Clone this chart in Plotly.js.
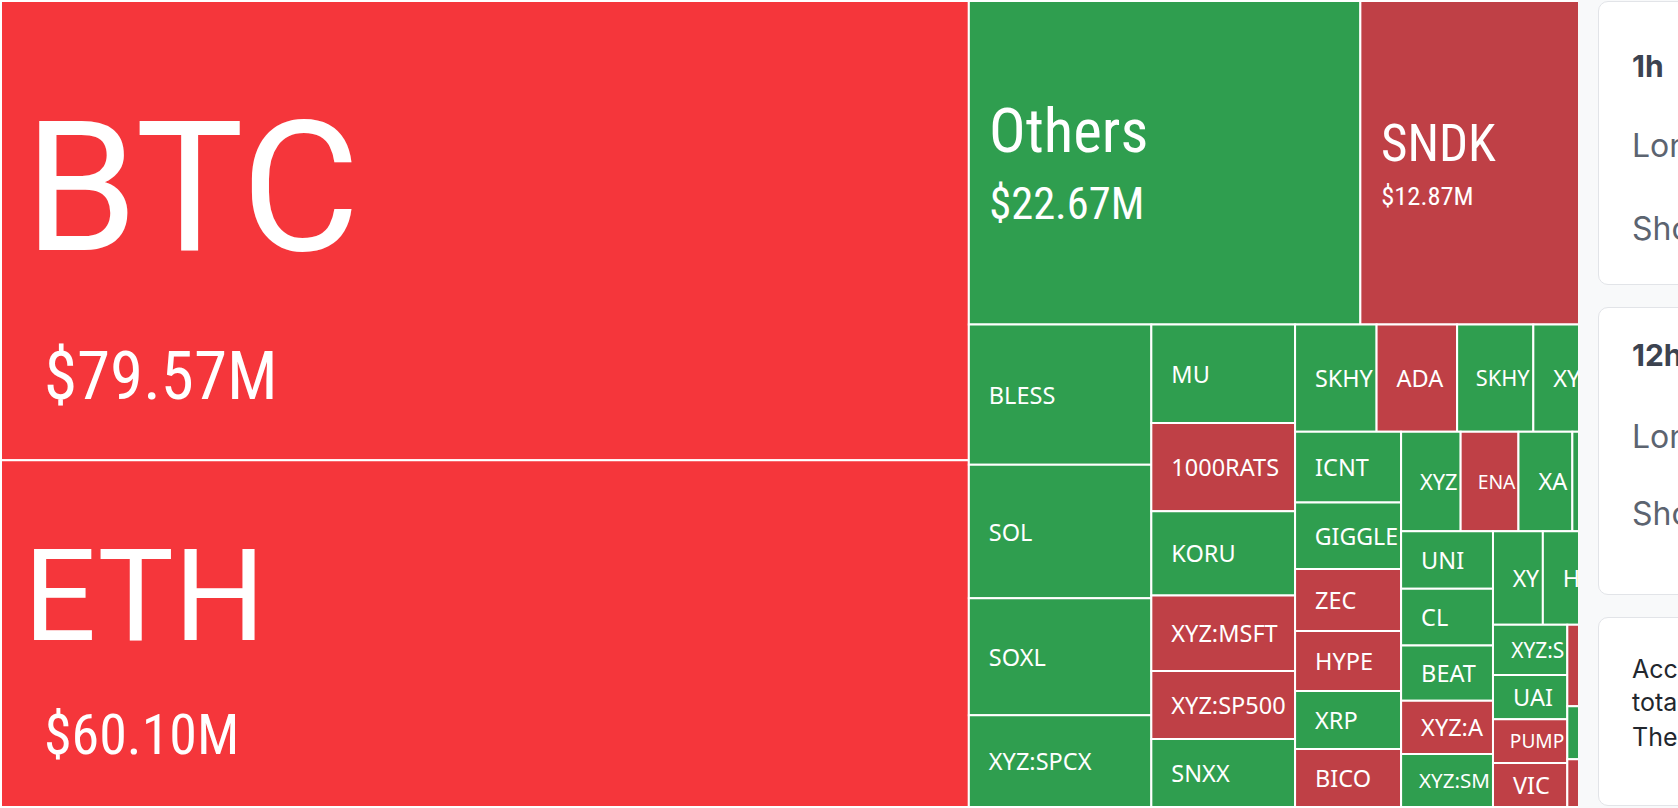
<!DOCTYPE html>
<html><head><meta charset="utf-8">
<script src="https://cdn.plot.ly/plotly-3.0.1.min.js"></script>
<style>
html,body{margin:0;padding:0;width:1678px;height:808px;overflow:hidden;background:#fff;}
#wrap{position:absolute;left:0;top:0;width:1578px;height:808px;overflow:hidden;background:#fff;}
#chart{position:absolute;left:0;top:0;width:1680px;height:808px;}
#side{position:absolute;left:1578px;top:0;width:100px;height:808px;background:#f8f9fa;overflow:hidden;}
.card{position:absolute;left:20px;width:220px;background:#fff;border:1px solid #e2e4e8;border-radius:10px;box-sizing:border-box;}
.tx{position:absolute;left:54px;white-space:nowrap;font-family:Inter,'Noto Sans',sans-serif;line-height:1;}
.h{font-weight:700;font-size:30px;color:#3c4350;}
.r{font-size:32px;color:#5c6470;}
.p{font-size:25px;color:#22272e;}
</style></head>
<body>
<div id="wrap"><div id="chart"></div></div>
<div id="side">
  <div class="card" style="top:1px;height:284px"></div>
  <div class="card" style="top:307px;height:288px"></div>
  <div class="card" style="top:617px;height:189px"></div>
  <div class="tx h" style="top:51px">1h</div>
  <div class="tx r" style="top:130px">Long</div>
  <div class="tx r" style="top:213px">Short</div>
  <div class="tx h" style="top:340px">12h</div>
  <div class="tx r" style="top:421px">Long</div>
  <div class="tx r" style="top:498px">Short</div>
  <div class="tx p" style="top:657px">According</div>
  <div class="tx p" style="top:690px">total</div>
  <div class="tx p" style="top:725px">The</div>
</div>
<script>
// ---- data ----
const labels = ['BTC','ETH','Others','SNDK','',
  'BLESS','SOL','SOXL','XYZ:SPCX',
  'MU','1000RATS','KORU','XYZ:MSFT','XYZ:SP500','SNXX',
  'SKHY','ADA','SKHY','XYZ','',
  'ICNT','GIGGLE','ZEC','HYPE','XRP','BICO',
  'XYZ','ENA','XA','','',
  'UNI','CL','BEAT','XYZ:A','XYZ:SM',
  'XY','H','','',
  'XYZ:S','UAI','PUMP','VIC',
  '','','',
  '','','','','',''];
const values = [79.57,60.10,22.67,12.87,5.58,
  4.59,4.36,3.82,3.00,
  2.54,2.27,2.17,1.94,1.75,1.75,
  1.567,1.548,1.465,1.42,1.38,
  1.344,1.262,1.177,1.139,1.101,1.101,
  1.061,1.030,0.960,0.952,0.948,
  0.945,0.936,0.909,0.875,0.872,
  0.835,0.80,0.76,0.72,
  0.670,0.586,0.585,0.584,
  0.56,0.54,0.53,
  0.50,0.45,0.30,0.28,0.26,0.224];
const tones = ['hot','hot','up','down','up',
  'up','up','up','up',
  'up','down','up','down','down','up',
  'up','down','up','up','up',
  'up','up','down','down','up','down',
  'up','down','up','up','down',
  'up','up','up','down','up',
  'up','up','down','up',
  'up','up','down','down',
  'down','up','down',
  'up','down','up','down','up','down'];

// ---- styles ----
const palette = {hot:'#F5363B', up:'#2F9E4F', down:'#BF4046'};
const COND = "'Roboto Condensed',Roboto,sans-serif";
const PLEX = "'Noto Sans','Open Sans',sans-serif";
const SMALL = 23.5;
const bigStyle = {
  BTC:   {base:115, l:182, lf:'Roboto', lw:0.248, v:67, padL:20.2, padV:40, top:58},
  ETH:   {base:88,  l:128, lf:'Roboto', lw:0.248, v:56, padL:19.6, padV:40, top:28},
  Others:{base:51.5,l:61,  lf:null, lw:0.23, v:44.5, padL:17.3, padV:17.4},
  SNDK:  {base:34,  l:51,  lf:null, lw:0.23, v:26.5, padL:17.6, padV:17.9}
};
function spacer(px, size, spw, fam){
  const n = Math.max(1, Math.ceil(px/(spw*size)));
  const f = px/(n*spw);
  return '<span style="'+(fam?'font-family:'+fam+';':'')+'font-size:'+f.toFixed(1)+'px">'+'\u00a0'.repeat(n)+'</span>';
}
const texts = labels.map((lab,i)=>{
  const st = bigStyle[lab];
  if(st){
    const ff = st.lf ? 'font-family:'+st.lf+';' : '';
    const top = st.top ? '<span style="font-size:'+st.top+'px">\u00a0</span><br>' : '';
    return top + spacer(st.padL, st.l, st.lw, st.lf) +
      '<span style="'+ff+'font-size:'+st.l+'px">'+lab+'</span><br>' +
      spacer(st.padV, st.v, 0.23, null) +
      '<span style="font-size:'+st.v+'px">$'+values[i].toFixed(2)+'M</span>';
  }
  if(!lab) return ' ';
  return spacer(17, SMALL, 0.26, null) + lab;
});
const sizes = labels.map(l=> bigStyle[l] ? bigStyle[l].base : SMALL);
const fams = labels.map(l=> bigStyle[l] ? COND : PLEX);
const colors = tones.map(t=>palette[t]);

const trace = {
  type:'treemap',
  ids: labels.map((l,i)=>'n'+i),
  labels: labels,
  parents: labels.map(()=>''),
  values: values,
  sort: true,
  tiling:{packing:'squarify', squarifyratio:1.618034, pad:0},
  marker:{colors: colors, line:{width:2, color:'#ffffff'}, pad:{t:0,l:0,r:0,b:0}},
  pathbar:{visible:false},
  texttemplate: texts,
  textposition:'middle left',
  textfont:{family:fams, size:sizes, color:'#ffffff'},
  insidetextfont:{family:fams, size:sizes, color:'#ffffff'},
  hoverinfo:'skip'
};
Plotly.newPlot('chart',[trace],{
  width:1680, height:808,
  margin:{l:1,r:1,t:1,b:1},
  paper_bgcolor:'#ffffff'
},{displayModeBar:false, staticPlot:true});
</script>
</body></html>
